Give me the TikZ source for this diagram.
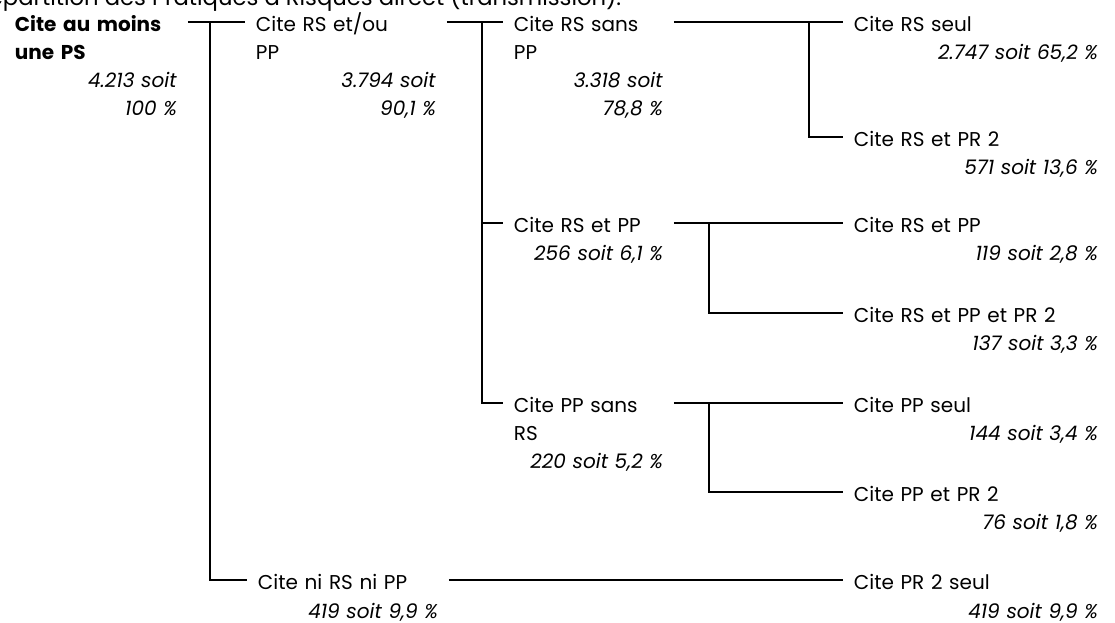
\documentclass[tikz,border=0pt]{standalone}
\usepackage{fontspec}
\setmainfont{Poppins}
\newcommand\pct[1]{\hspace*{0pt plus 1filll}\textit{#1}}
\begin{document}
\begin{tikzpicture}[x=0.75pt, y=-0.75pt, line width=1.4pt,
  every node/.style={font=\fontsize{15}{21}\selectfont, inner xsep=7.5pt, inner ysep=0pt, align=left, anchor=base west},
  lift/.style={yshift=7.5pt}]
  \useasboundingbox (0,0) rectangle (1115,623);
  \node[inner sep=0pt, font=\fontsize{17}{21}\selectfont] (title) at (2,6) {\llap{Ré}partition des Pratiques à Risques direct (transmission).};

  % tree, left to right
  \node[text width=121.5pt] (root) at (4,32) {\textbf{Cite au moins}\\\textbf{une PS}\\\pct{4.213 soit}\\\pct{100 \%}};
  \node[text width=135pt] (rsou) at (245,32) {Cite RS et/ou\\PP\\\pct{3.794 soit}\\\pct{90,1 \%}};
  \node[text width=135pt] (ni) at (247,590) {Cite ni RS ni PP\\\pct{419 soit 9,9 \%}};
  \node[text width=111.75pt] (rssans) at (503,32) {Cite RS sans\\PP\\\pct{3.318 soit}\\\pct{78,8 \%}};
  \node[text width=111.75pt] (rspp) at (503,233) {Cite RS et PP\\\pct{256 soit 6,1 \%}};
  \node[text width=111.75pt] (ppsans) at (503,413) {Cite PP sans\\RS\\\pct{220 soit 5,2 \%}};
  \foreach \n/\y/\txt/\val in {rsseul/32/{Cite RS seul}/{2.747 soit 65,2 \%},
      rspr/147/{Cite RS et PR 2}/{571 soit 13,6 \%},
      rspp2/233/{Cite RS et PP}/{119 soit 2,8 \%},
      rspppr/323/{Cite RS et PP et PR 2}/{137 soit 3,3 \%},
      ppseul/413/{Cite PP seul}/{144 soit 3,4 \%},
      pppr/502/{Cite PP et PR 2}/{76 soit 1,8 \%},
      prseul/590/{Cite PR 2 seul}/{419 soit 9,9 \%}} {
    \node[text width=183pt] (\n) at (843,\y) {\txt\\\pct{\val}};
  }

  % junctions
  \coordinate (j1) at ([xshift=-26.25pt, lift]rsou.base west);
  \coordinate (j2) at ([xshift=-15.75pt, lift]rssans.base west);
  \coordinate (j3) at ([xshift=-25.5pt, lift]rsseul.base west);
  \coordinate (j4) at ([xshift=26.25pt, lift]rspp.base east);
  \coordinate (j5) at ([xshift=26.25pt, lift]ppsans.base east);

  \draw ([lift]root.base east) -- ([lift]rsou.base west);
  \draw (j1) |- ([lift]ni.base west);
  \draw ([lift]ni.base east) -- ([lift]prseul.base west);
  \draw ([lift]rsou.base east) -- ([lift]rssans.base west);
  \draw (j2) |- ([lift]rspp.base west);
  \draw (j2) |- ([lift]ppsans.base west);
  \draw ([lift]rssans.base east) -- ([lift]rsseul.base west);
  \draw (j3) |- ([lift]rspr.base west);
  \draw ([lift]rspp.base east) -- ([lift]rspp2.base west);
  \draw (j4) |- ([lift]rspppr.base west);
  \draw ([lift]ppsans.base east) -- ([lift]ppseul.base west);
  \draw (j5) |- ([lift]pppr.base west);
\end{tikzpicture}
\end{document}
